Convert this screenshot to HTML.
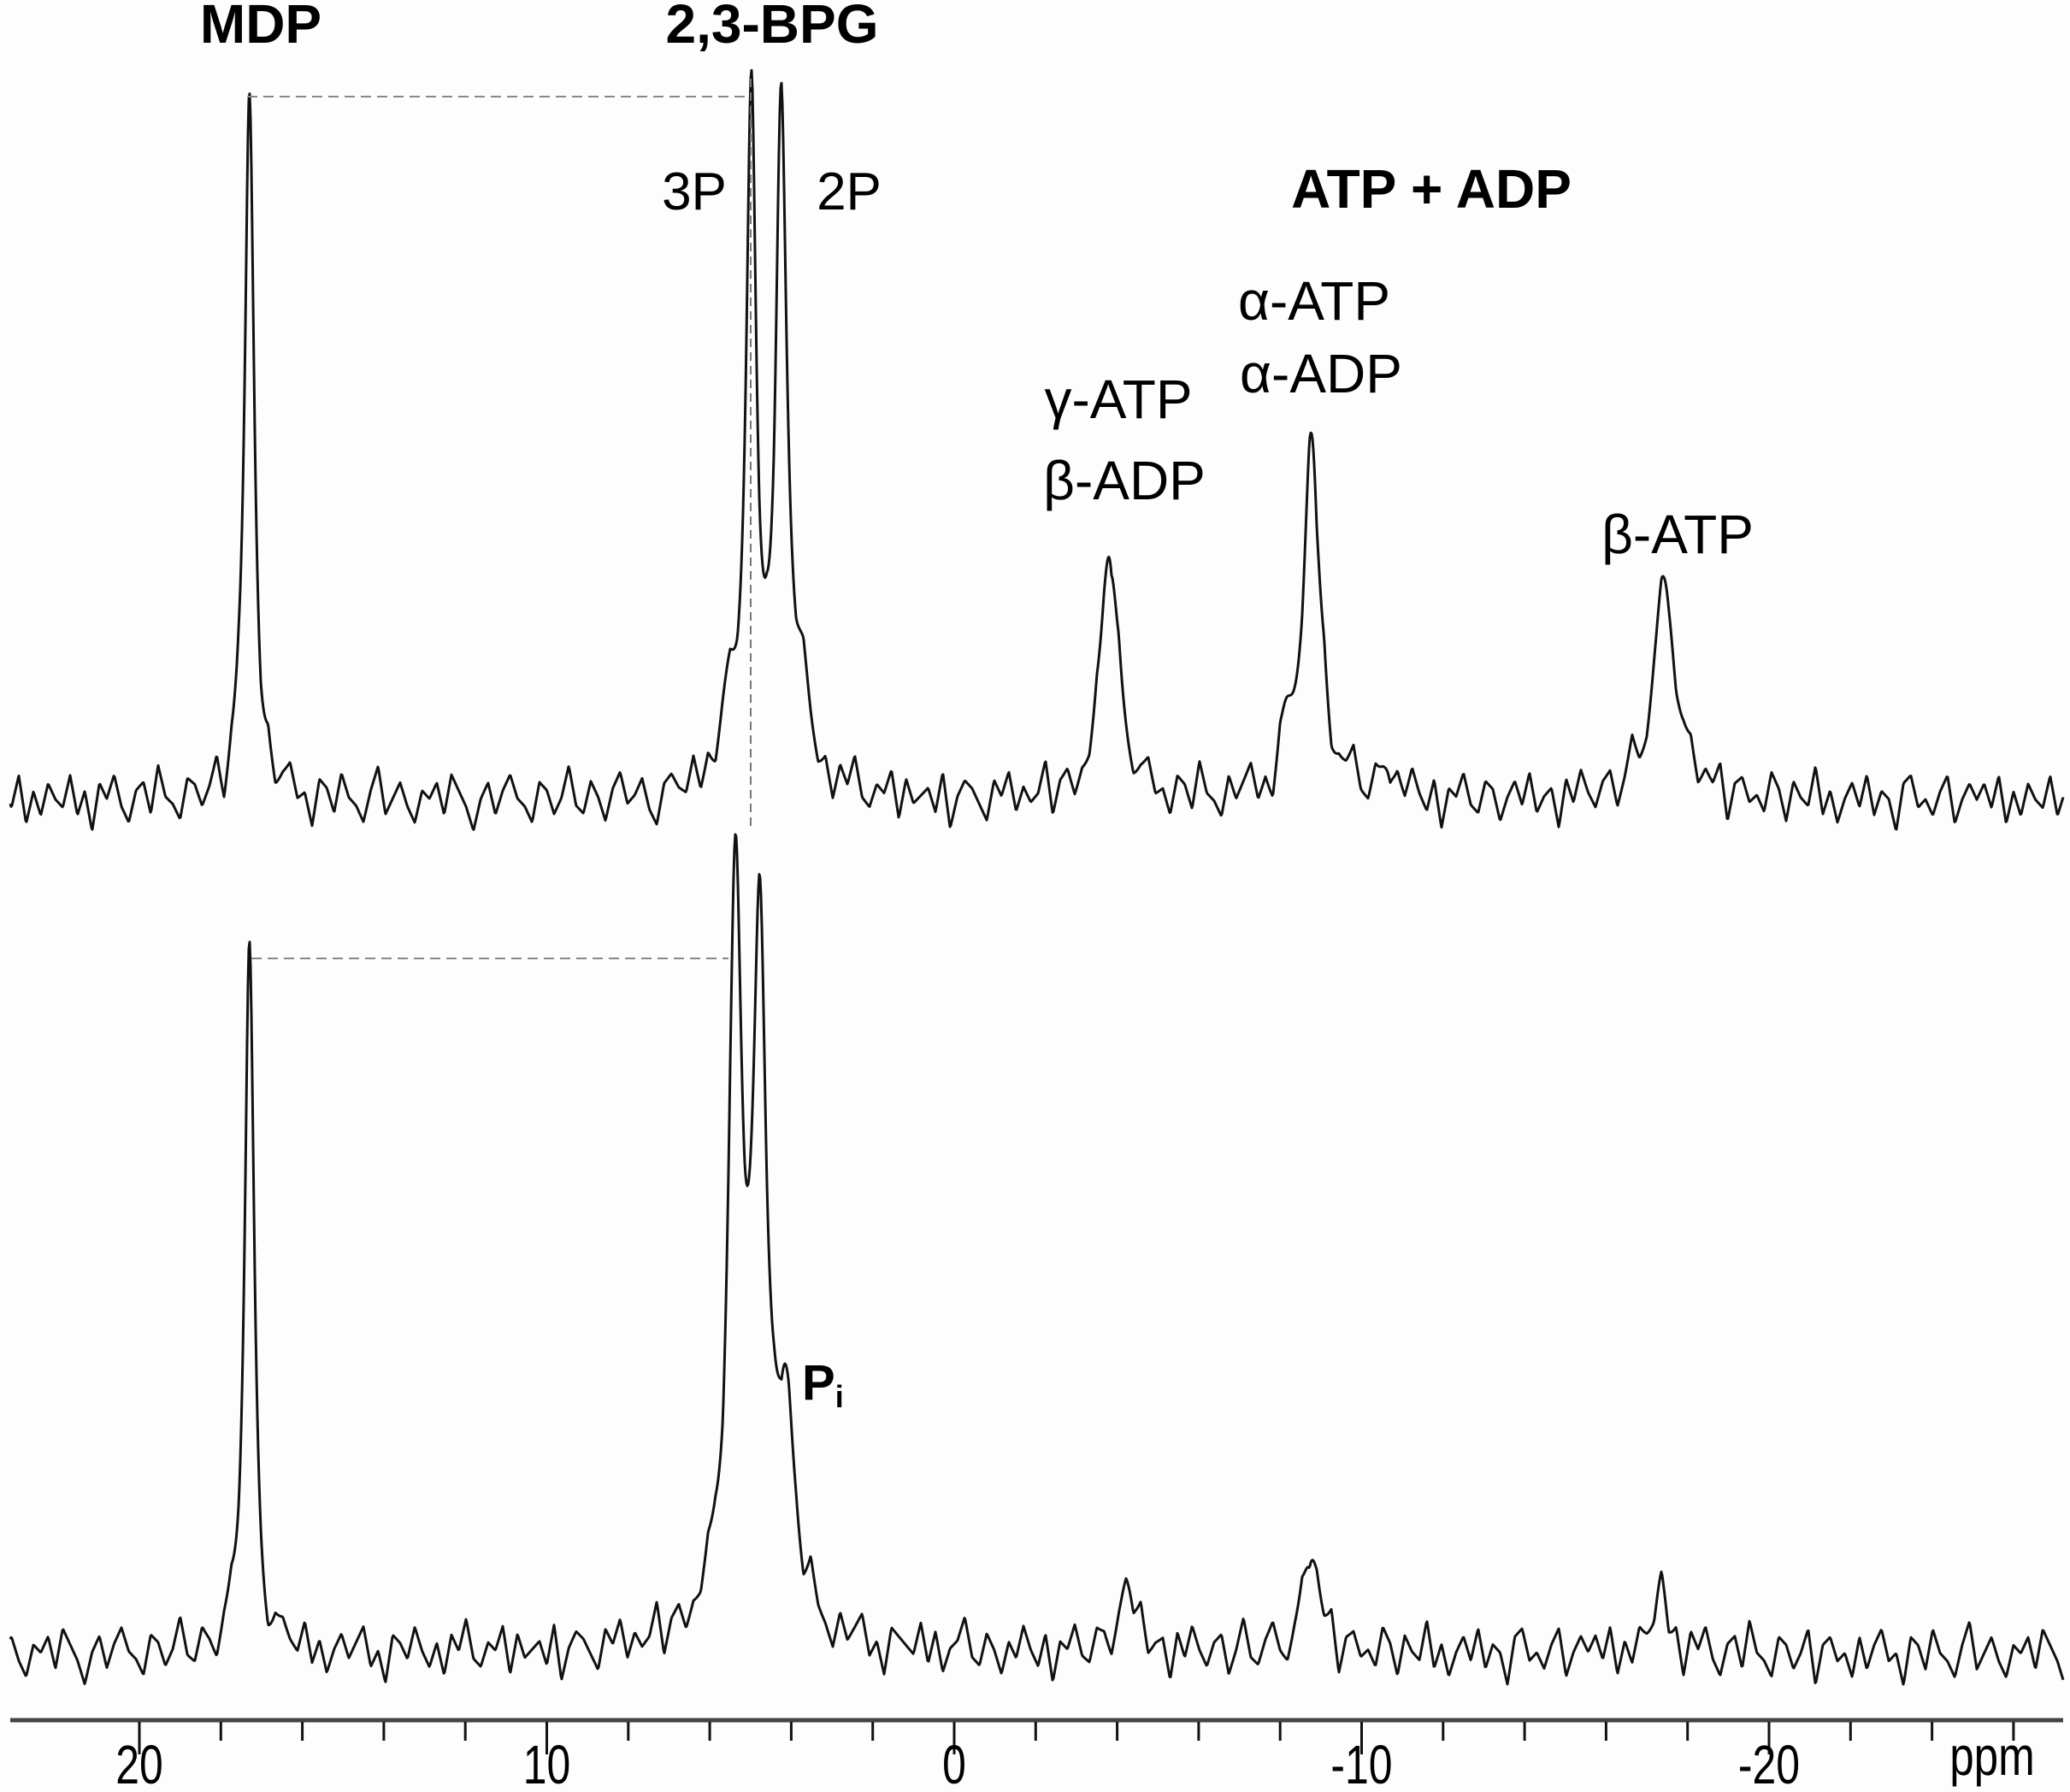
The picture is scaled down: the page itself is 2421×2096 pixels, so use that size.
<!DOCTYPE html>
<html><head><meta charset="utf-8"><style>
html,body{margin:0;padding:0;background:#fdfdfd;}
svg{display:block;}
text{font-family:"Liberation Sans",sans-serif;fill:#000;}
</style></head><body>
<svg id="chart" width="2421" height="2096" viewBox="0 0 2421 2096" xmlns="http://www.w3.org/2000/svg">
<rect x="0" y="0" width="2421" height="2096" fill="#fdfdfd"/>
<g id="series"></g>
<g id="axis"></g>
<g>
<line x1="289" y1="113" x2="878" y2="113" stroke="#888" stroke-width="2" stroke-dasharray="12,7"/>
<line x1="878" y1="92" x2="878" y2="968" stroke="#777" stroke-width="2" stroke-dasharray="10,6"/>
<line x1="294" y1="1121" x2="852" y2="1121" stroke="#888" stroke-width="2" stroke-dasharray="12,7"/>
<text x="305" y="50" font-size="64" font-weight="bold" text-anchor="middle">MDP</text>
<text x="903" y="50" font-size="64" font-weight="bold" text-anchor="middle">2,3-BPG</text>
<text x="812" y="245" font-size="62" text-anchor="middle">3P</text>
<text x="993" y="245" font-size="62" text-anchor="middle">2P</text>
<text x="1674" y="243" font-size="64" font-weight="bold" text-anchor="middle">ATP + ADP</text>
<text x="1537" y="374" font-size="64" text-anchor="middle">α-ATP</text>
<text x="1545" y="459" font-size="64" text-anchor="middle">α-ADP</text>
<text x="1308" y="489" font-size="64" text-anchor="middle">γ-ATP</text>
<text x="1315" y="584" font-size="64" text-anchor="middle">β-ADP</text>
<text x="1962" y="647" font-size="64" text-anchor="middle">β-ATP</text>
<text x="938" y="1637" font-size="58" font-weight="bold">P<tspan font-size="36" dy="9">i</tspan></text>
</g>
<script>
// ppm scale
const tickPPM = [20,18,16,14,12,10,8,6,4,2,0,-2,-4,-6,-8,-10,-12,-14,-16,-18,-20,-22,-24,-26];
const tickLabels = ["20","10","0","-10","-20"];
const tickLabelPPM = [20,10,0,-10,-20];
// top spectrum peaks
const topPos = [17.3,4.98,4.25,5.55,3.75,-3.82,-8.78,-17.45,-8.15,-10.65];
const topHeight = [98,90,90,10,10,36,48,29,6,5];
const topWidth = [0.14,0.15,0.17,0.3,0.3,0.25,0.25,0.35,0.2,0.2];
// bottom spectrum peaks
const botPos = [17.3,5.37,4.77,4.15,4.95,-4.25,-8.75,-17.35];
const botHeight = [97,93,78,25,15,8,14,8];
const botWidth = [0.14,0.19,0.19,0.25,0.7,0.3,0.25,0.25];
// baseline noise (0.18 ppm spacing from 23.5 ppm)
const noise = [0,2,-1,3,-3,1,-2,2,0,-1,3,-2,1,-4,2,0,3,-1,-3,1,2,-2,4,0,-1,-3,2,1,-2,0,3,-4,1,2,-1,0,-3,2,-2,1,3,-1,0,-4,2,1,-2,3,0,-1,-3,1,4,-2,0,2,-1,-3,1,0,2,-2,3,1,-1,-4,0,2,-2,1,3,0,-1,-3,2,1,-2,0,4,-1,-2,2,0,-3,1,3,-1,0,2,-2,-4,1,2,0,-1,3,-2,1,-3,0,2,-1,1,3,-2,0,-4,2,1,-1,3,0,-2,1,-3,2,0,4,-1,-2,1,0,3,-3,2,-1,0,1,-2,3,-4,0,2,1,-1,-3,2,0,3,-2,1,-1,0,4,-3,1,2,-2,0,-1,3,1,-4,2,0,-2,1,3,-1,0,-3,2,1,-2,4,0,-1,-3,2,-1,1,3,-2,0,-4,2,1,0,-1,3,-2,2,-3,0,1,4,-1,-2,2,0,-3,1,-1,3,0,-2,2,-4,1,0,3,-1,-2,2,1,-3,0,2,-1,3,-2,0,1,-4,2,-1,3,0,-2,1,2,-3,0,4,-1,-2,1,3,-1,-3,0,2,-2,1,0,3,-4,1,2,-1,0,-2,3,1,-3,2,0,-1,4,-2,1,-3,0,2,-1,3,-2,1,0,-4,2,3,-1,0,-2,1,3,-3,0,2];

const X = ppm => 1116 - 47.65 * ppm;
const Ytop = v => 936 - v * 8.5;
const Ybot = v => 1934 - v * 8.5;

function noiseAt(ppm, off){
  const f = (23.5 - ppm) / 0.18 + off;
  const n = noise.length;
  const i = Math.floor(f), t = f - i;
  const a = noise[((i % n) + n) % n], b = noise[(((i + 1) % n) + n) % n];
  return a + (b - a) * t;
}
function spec(ppm, pos, h, w, off){
  let s = noiseAt(ppm, off) * 1.1;
  for (let k = 0; k < pos.length; k++){
    const d = (ppm - pos[k]) / w[k];
    s += h[k] / (1 + d * d);
  }
  return s;
}
const NS = "http://www.w3.org/2000/svg";
const g = document.getElementById('series');
function drawSpec(pos, h, w, Y, off, name){
  let d = "";
  for (let px = 12; px <= 2413; px += 1){
    const ppm = (1116 - px) / 47.65;
    const y = Y(spec(ppm, pos, h, w, off));
    d += (d ? "L" : "M") + px + "," + y.toFixed(1);
  }
  const p = document.createElementNS(NS, 'path');
  p.setAttribute('d', d);
  p.setAttribute('fill', 'none');
  p.setAttribute('stroke', '#111');
  p.setAttribute('stroke-width', '3');
  p.setAttribute('stroke-linejoin', 'round');
  
  
  g.appendChild(p);
}
drawSpec(topPos, topHeight, topWidth, Ytop, 0, 'top-spectrum');
drawSpec(botPos, botHeight, botWidth, Ybot, 53, 'bottom-spectrum');

const ax = document.getElementById('axis');
const line = document.createElementNS(NS, 'line');
line.setAttribute('x1', 12); line.setAttribute('x2', 2413);
line.setAttribute('y1', 2012); line.setAttribute('y2', 2012);
line.setAttribute('stroke', '#444'); line.setAttribute('stroke-width', '5');


ax.appendChild(line);
tickPPM.forEach(v => {
  const major = v % 10 === 0;
  const t = document.createElementNS(NS, 'line');
  t.setAttribute('x1', X(v)); t.setAttribute('x2', X(v));
  t.setAttribute('y1', 2014); t.setAttribute('y2', major ? 2052 : 2036);
  t.setAttribute('stroke', '#111'); t.setAttribute('stroke-width', '3');
  
  
  ax.appendChild(t);
});
tickLabels.forEach((lab, i) => {
  const t = document.createElementNS(NS, 'text');
  const x = X(tickLabelPPM[i]);
  t.setAttribute('x', 0);
  t.setAttribute('y', 0);
  t.setAttribute('transform', 'translate(' + x + ',2086) scale(0.78,1)');
  t.setAttribute('font-size', '64');
  t.setAttribute('text-anchor', 'middle');
  t.textContent = lab;
  
  
  ax.appendChild(t);
});
const u = document.createElementNS(NS, 'text');
u.setAttribute('x', 0); u.setAttribute('y', 0);
u.setAttribute('transform', 'translate(2330,2076) scale(0.8,1)');
u.setAttribute('font-size', '64');
u.setAttribute('text-anchor', 'middle');
u.textContent = 'ppm';


ax.appendChild(u);
</script>
</svg>
</body></html>
